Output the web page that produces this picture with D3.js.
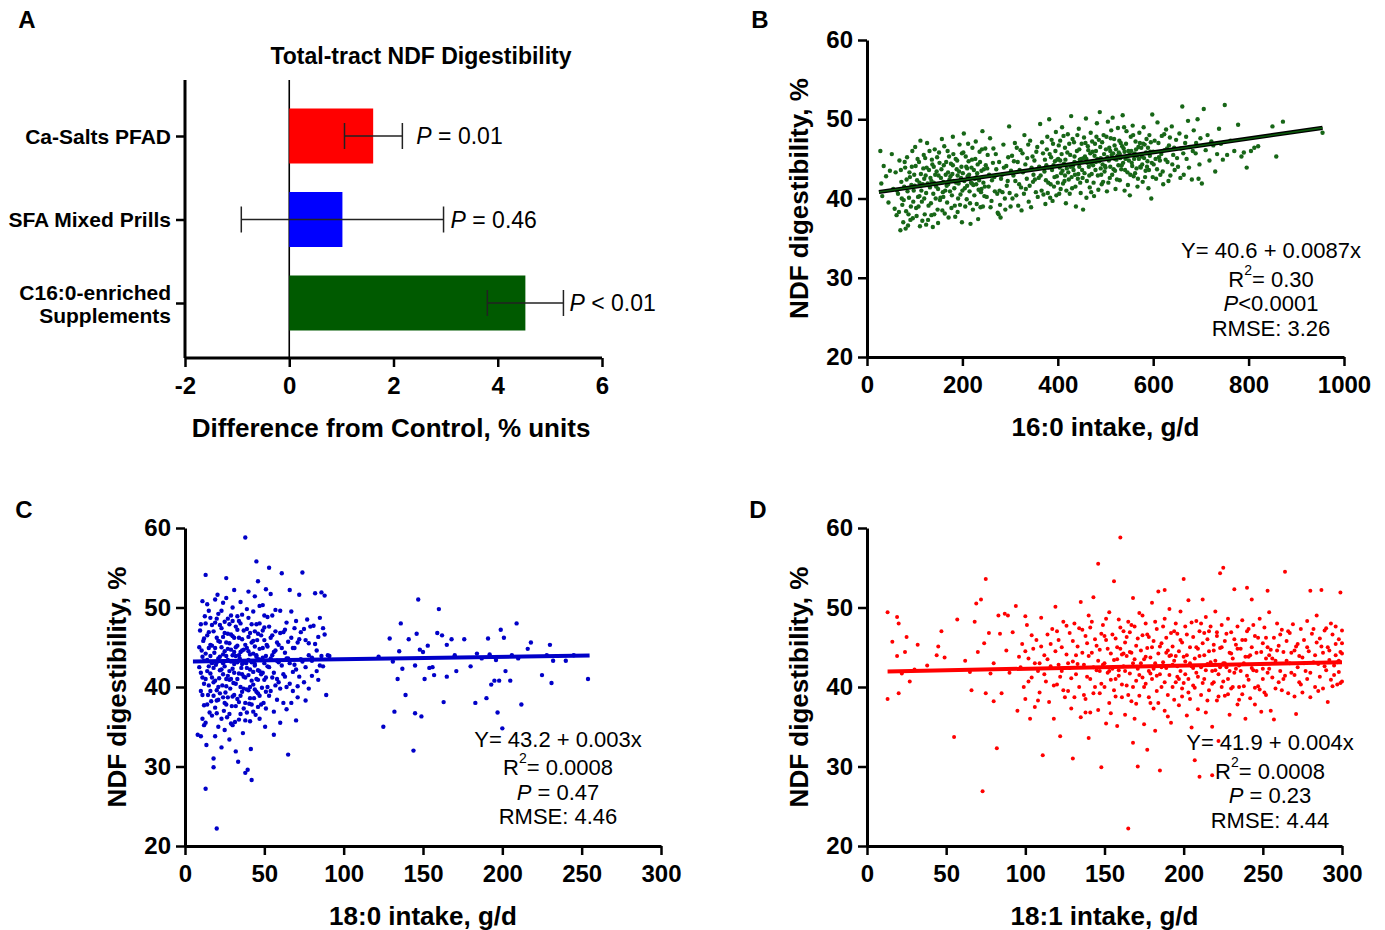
<!DOCTYPE html>
<html>
<head>
<meta charset="utf-8">
<script src="https://cdn.jsdelivr.net/npm/d3@7"></script>
<style>
  html, body { margin: 0; padding: 0; background: #fff; }
  svg { display: block; font-family: "Liberation Sans", Arial, Helvetica, sans-serif; }
  .tick text { font-weight: bold; }
</style>
</head>
<body>
<svg id="fig" width="1385" height="930"></svg>
<script>
// ---------- Panel A: treatment differences ----------
const supplements = ["Ca-Salts PFAD", "SFA Mixed Prills", "C16:0-enriched|Supplements"];
const diffMean = [1.61, 1.02, 4.53];
const diffLow = [1.06, -0.92, 3.80];
const diffHigh = [2.17, 2.96, 5.26];
const diffP = ["= 0.01", "= 0.46", "< 0.01"];
const barColors = ["#FF0000", "#0000FF", "#005A00"];
const diffTicks = [-2, 0, 2, 4, 6];

// ---------- Panel B: 16:0 intake vs NDF digestibility ----------
const c16 = [
[28,46.0],[30,41.9],[32,40.3],[35,44.1],[40,42.8],[45,39.5],[48,43.5],
[52,45.6],[55,41.2],[58,38.7],[60,43.3],[62,37.9],[65,40.6],[68,44.8],[70,36.0],[72,42.1],[74,39.2],
[76,37.0],[78,41.5],[80,43.9],[82,38.4],[84,45.2],[86,36.6],[88,40.1],[90,42.7],[92,39.0],[94,44.0],[96,37.5],[98,41.0],
[101,46.5],[103,38.8],[105,42.3],[107,40.2],[109,44.6],[111,36.5],[113,43.1],[115,39.6],[117,41.8],[119,45.5],[121,38.0],[123,42.9],[124,40.7],
[126,47.0],[128,37.3],[130,43.6],[132,41.4],[134,39.4],[136,44.9],[138,36.4],[140,42.0],[142,46.2],[144,40.0],[146,43.4],[148,38.6],[149,41.2],
[151,45.8],[153,39.8],[155,42.6],[157,47.5],[159,40.8],[161,44.2],[163,38.1],[165,43.0],[167,41.6],[169,46.0],[171,37.6],[173,42.4],
[176,44.4],[178,40.4],[180,47.8],[182,42.2],[184,39.1],[186,45.0],[188,43.7],[190,38.3],[192,41.9],[194,46.8],[196,40.5],[198,44.0],[199,37.0],
[201,43.2],[203,48.2],[205,41.3],[207,45.3],[209,39.9],[211,42.8],[213,44.7],[215,40.9],[217,36.8],[219,43.9],[221,46.4],[223,41.7],
[226,42.5],[228,47.2],[230,39.3],[232,44.3],[234,41.1],[236,45.9],[238,38.9],[240,43.5],[242,48.5],[244,42.0],[246,40.3],[248,46.3],
[252,43.8],[255,41.5],[258,47.6],[261,39.7],[264,44.5],[267,42.7],[270,45.6],[273,40.6],
[276,38.0],[278,41.0],[280,37.6],[283,43.0],[286,46.8],[289,40.0],[292,44.1],[295,42.2],[298,49.1],
[301,39.0],[304,45.4],[307,42.9],[310,47.0],[313,40.4],[316,44.6],[319,41.8],[322,46.1],[324,38.5],
[327,43.3],[330,48.0],[333,41.2],[336,45.1],[339,39.6],[342,47.3],[345,43.9],[348,42.1],
[351,44.8],[354,40.8],[357,46.5],[360,42.6],[363,49.4],[366,41.0],[369,45.7],[372,43.4],[374,39.3],
[376,44.2],[378,47.8],[380,42.0],[382,50.0],[384,40.1],[386,45.2],[388,43.6],[390,46.9],[392,41.5],[394,44.7],[396,48.4],[398,42.8],
[401,45.0],[403,40.6],[405,47.3],[407,43.2],[409,49.0],[411,41.9],[413,44.4],[415,46.4],[417,39.4],[419,43.8],[421,48.1],[423,42.4],
[426,45.5],[428,50.4],[430,41.3],[432,44.1],[434,47.1],[436,43.0],[438,39.0],[440,46.0],[442,42.5],[444,48.8],[446,44.9],[448,40.7],
[451,43.6],[453,38.6],[455,47.7],[457,45.3],[459,50.1],[461,42.2],[463,46.6],[465,44.0],[467,41.4],[469,48.3],[471,43.1],[473,45.9],
[476,40.3],[478,46.9],[480,44.6],[482,49.5],[484,42.9],[486,47.4],[488,50.9],[490,45.1],[492,41.8],[494,44.3],[496,48.0],[498,43.4],
[501,46.2],[503,40.9],[505,49.7],[507,44.8],[509,42.6],[511,47.6],[513,45.5],[515,50.2],[517,43.7],[519,46.7],[521,41.2],[523,44.9],
[526,48.9],[528,45.8],[530,42.3],[532,47.0],[534,44.2],[536,50.5],[538,46.3],[540,41.0],[542,45.0],[544,48.5],[546,43.3],[548,46.0],
[551,40.4],[553,47.8],[555,44.5],[557,49.2],[559,42.8],[561,45.7],[563,47.2],[565,43.8],[567,41.5],[569,46.5],[571,48.3],[573,44.0],
[576,45.3],[578,42.1],[580,49.0],[582,46.8],[584,43.5],[586,47.5],[588,44.7],[590,41.3],[592,48.0],[594,45.9],[596,40.0],[598,50.6],
[601,44.3],[603,47.3],[606,42.5],[609,49.6],[612,45.2],[615,43.0],[618,47.9],[621,41.8],[624,46.1],
[627,48.7],[630,44.6],[633,46.7],[636,42.9],[639,49.1],[642,45.5],[645,43.6],[648,47.4],
[652,44.0],[655,48.2],[658,46.3],[661,51.6],[664,43.0],[667,47.0],[670,45.0],[673,49.8],
[677,46.5],[681,42.4],[685,48.6],[689,45.7],[693,50.0],[697,44.3],[699,47.6],
[702,41.9],[706,51.3],[710,46.1],[714,48.0],[718,44.8],[722,47.2],[726,46.7],[730,43.4],[734,45.6],[738,48.8],[742,46.9],[746,44.9],
[750,51.8],[755,45.5],[762,47.3],[770,46.0],[778,49.3],[785,45.3],[790,45.8],[796,43.9],
[805,46.0],[812,46.4],[820,46.6],[850,49.1],[858,45.3],[872,49.7],[955,48.3],
[63,41.0],[67,38.3],[71,43.6],[73,40.0],[77,39.8],[79,44.6],[81,36.2],[83,42.4],[85,40.9],[87,38.0],[89,43.3],[91,37.3],[93,41.7],[95,46.0],[97,39.6],[99,43.0],
[100,41.6],[102,44.1],[104,37.8],[106,45.0],[108,39.0],[110,42.0],[112,47.3],[114,41.0],[116,37.2],[118,43.8],[120,40.0],[122,45.1],[124,36.7],[125,43.9],[127,41.9],
[129,39.1],[131,46.0],[133,42.6],[135,37.9],[137,44.3],[139,40.6],[141,38.0],[143,43.0],[145,41.5],[147,45.2],[149,36.9],[120,42.5],[135,42.2],[110,40.3],[140,44.0],
[150,42.9],[152,44.5],[154,40.1],[156,43.7],[158,38.5],[160,42.1],[162,46.6],[164,41.0],[166,44.6],[168,39.5],[170,43.3],[172,45.3],[174,40.9],[175,42.8],[177,38.8],
[179,43.1],[181,45.6],[183,41.3],[185,37.7],[187,42.0],[189,44.8],[191,40.0],[193,43.4],[195,39.2],[197,42.6],[199,45.7],[160,40.2],[170,41.8],[180,44.2],[190,42.9],
[200,41.0],[202,45.8],[204,42.2],[206,39.0],[208,44.0],[210,41.6],[212,46.9],[214,43.0],[216,39.4],[218,42.0],[220,44.9],[222,38.6],[224,43.6],[225,40.4],[227,45.0],
[229,41.8],[231,43.2],[233,37.4],[235,42.3],[237,44.6],[239,40.8],[241,46.2],[243,39.0],[245,43.7],[247,41.5],[249,44.2],[210,43.8],[230,42.7],[240,41.2],[220,41.9],
[251,40.2],[253,45.5],[256,43.0],[259,38.9],[262,42.3],[265,46.3],[268,40.9],[271,43.7],[274,38.2],[277,44.6],[279,39.2],[281,42.5],[284,40.8],[287,43.9],[290,38.6],[293,41.6],[296,45.2],[299,40.7],
[302,43.5],[305,40.0],[308,44.7],[311,42.2],[314,46.4],[317,39.1],[320,43.6],[323,41.4],[326,45.7],[329,40.6],[332,44.3],[335,42.5],[338,46.8],[341,41.6],[344,38.9],[347,45.3],[349,43.0],
[352,42.4],[355,45.9],[358,40.2],[361,44.0],[364,42.9],[367,47.1],[370,40.5],[373,44.9],[375,42.3],[377,46.2],[379,40.7],[381,43.9],[383,45.6],[385,41.8],[387,47.4],[389,39.7],[391,44.2],[393,42.7],[395,46.0],[397,40.4],[399,44.9],
[400,42.0],[402,46.7],[404,43.9],[406,41.2],[408,45.6],[410,43.5],[412,47.9],[414,42.2],[416,44.9],[418,41.0],[420,45.8],[422,43.3],[424,46.9],[425,40.6],[427,44.0],
[429,42.7],[431,47.5],[433,43.6],[435,45.3],[437,41.5],[439,44.5],[441,48.0],[443,43.1],[445,46.2],[447,42.0],[449,45.0],[405,44.8],[415,42.9],[435,44.6],[445,44.0],
[450,46.9],[452,42.6],[454,45.1],[456,43.2],[458,47.0],[460,40.1],[462,44.5],[464,46.1],[466,42.9],[468,45.7],[470,40.8],[472,47.2],[474,44.2],[475,42.0],[477,45.4],
[479,43.6],[481,47.8],[483,45.0],[485,41.1],[487,44.7],[489,46.5],[491,43.0],[493,47.1],[495,42.1],[497,45.6],[499,44.1],[460,45.0],[470,44.4],[480,46.0],[490,43.8],
[500,43.9],[502,47.8],[504,45.2],[506,42.0],[508,46.4],[510,44.0],[512,48.6],[514,43.0],[516,45.7],[518,47.5],[520,43.5],[522,46.2],[524,42.4],[525,45.4],[527,44.2],
[529,47.3],[531,45.1],[533,43.7],[535,46.6],[537,44.5],[539,49.0],[541,43.6],[543,46.9],[545,45.3],[547,41.7],[549,44.8],[510,46.0],[520,45.0],[530,45.6],[540,45.9],
[550,45.5],[552,43.0],[554,46.0],[556,44.1],[558,48.0],[560,45.0],[562,43.2],[564,46.2],[566,45.4],[568,42.5],[570,45.0],[572,47.0],[574,43.9],
[575,46.4],[577,44.3],[579,46.9],[581,45.1],[583,42.7],[585,45.8],[587,44.0],[589,46.4],[591,43.6],[593,45.4],[595,47.1],[597,44.5],[599,42.7],
[600,45.9],[605,45.0],[608,43.7],[611,47.0],[614,44.8],[617,45.6],[620,43.4],[623,48.1],[626,44.9],[629,46.3],[632,42.2],
[635,47.7],[640,44.3],[644,46.4],[650,45.1],[657,42.6],[663,45.7],[669,47.8],[675,43.9],[683,46.0],[690,47.0],[695,42.5]
];

// ---------- Panel C: 18:0 intake vs NDF digestibility ----------
const c18 = [
[8,34.0],[9,42.5],[9.5,47.1],[10,39.5],[10.5,44.6],[11,50.8],[11,41.2],[11.5,45.8],[12,37.7],[12,43.3],[12.5,48.9],[12,40.4],[11,36.0],[10,33.8],
[13,54.1],[13,27.2],[13.5,32.7],[14,42.0],[14,46.5],[14.5,39.0],[15,44.9],[15,49.6],[15.5,36.8],[16,41.7],[16,45.3],[16.5,38.2],[17,43.0],[17,47.8],[13,35.5],[14,50.4],
[18,31.0],[18,40.6],[18.5,44.3],[19,48.1],[19,37.4],[19.5,42.8],[20,46.2],[20,39.6],[20.5,51.6],[21,35.0],[21,43.6],[21.5,41.1],[22,45.7],[20,22.2],[18,29.9],[19,33.8],[20,38.3],[21,49.2],[22,42.1],
[23,32.4],[23,47.4],[23.5,40.2],[24,44.1],[24,50.6],[24.5,37.0],[25,42.6],[25,46.8],[25.5,39.3],[26,53.7],[26,43.9],[26.5,36.2],[27,48.6],[27,41.4],[23,45.0],[24,38.7],[25,34.6],[26,41.0],[27,44.8],[26,51.2],
[28,33.4],[28,45.5],[28.5,39.8],[29,43.2],[29,49.0],[29.5,37.6],[30,42.3],[30,46.4],[30.5,40.5],[31,52.2],[31,44.4],[31.5,35.6],[32,31.9],[32,47.6],[28,42.0],[29,35.4],[30,38.8],[31,41.8],[32,43.9],[30,50.0],
[33,41.0],[33,45.2],[33.5,30.6],[34,38.1],[34,48.3],[34.5,43.6],[35,36.6],[35,50.7],[35.5,42.4],[36,46.0],[36,39.4],[36.5,34.2],[37,44.7],[37,41.3],[33,48.9],[34,44.0],[35,40.0],[36,42.9],[37,37.3],
[38,58.8],[38,29.2],[38.5,43.0],[39,47.3],[39,39.7],[39.5,29.6],[40,52.0],[40,44.5],[40.5,37.9],[41,42.2],[41,46.8],[41.5,32.2],[42,28.3],[42,40.8],[38,35.8],[39,49.8],[40,41.5],[41,35.7],[42,45.6],[40,43.4],
[43,44.2],[43,49.5],[43.5,38.6],[44,42.7],[44,47.0],[44.5,36.5],[45,55.8],[45,41.0],[45.5,45.9],[46,39.2],[46,53.3],[46.5,43.5],[47,48.0],[47,36.0],[43,40.3],[44,51.4],[45,43.8],[46,37.5],[47,42.0],
[48,41.6],[48,46.5],[48.5,39.9],[49,44.9],[49,50.3],[49.5,38.0],[50,43.0],[50,47.5],[50.5,35.0],[51,41.2],[51,52.3],[51.5,45.3],[52,40.0],[52,48.8],[49,43.7],[50,45.9],[51,37.3],
[53,55.0],[53,42.5],[54,46.2],[54,39.5],[55,44.0],[55,49.0],[56,34.0],[56,41.8],[57,47.0],[57,44.6],[58,38.4],[58,43.3],[54,51.7],[56,36.9],
[59,45.3],[59,40.6],[60,49.6],[60,35.5],[61,54.3],[61,42.7],[62,46.9],[62,38.0],[63,44.3],[63,41.3],[64,48.1],[64,37.2],[65,31.5],[65,43.6],
[66,52.2],[66,40.4],[67,46.2],[67,38.0],[68,44.9],[68,41.9],[69,47.4],[69,42.8],[70,35.8],[70,48.3],[71,40.1],[71,45.6],[72,51.6],[72,41.3],
[73,46.9],[74,54.4],[74,43.2],[75,40.6],[76,45.9],[76,42.5],[77,48.5],[78,39.8],[78,44.0],[79,47.6],[80,41.4],[80,43.7],
[82,51.8],[82,45.4],[83,42.0],[84,46.3],[85,48.7],[86,43.9],[86,51.9],[87,42.6],[87,47.4],[88,51.5],[89,39.0],[91,43.9],
[9,45.0],[10,41.8],[10,47.9],[11,39.0],[11,43.8],[12,46.1],[12,35.2],[13,41.0],[13,44.2],[13,48.0],[14,37.8],[14,43.4],[15,40.2],[15,46.9],[15,42.6],
[16,48.7],[16,39.5],[16,43.9],[17,36.4],[17,41.2],[17,45.2],[18,42.4],[18,47.0],[18,38.9],[19,44.9],[19,40.8],[19,51.0],[20,43.1],[20,36.7],[20,48.6],
[21,40.0],[21,45.8],[21,38.4],[22,43.8],[22,47.8],[22,39.2],[23,42.2],[23,36.0],[23,49.6],[24,41.6],[24,46.3],[24,43.0],[25,38.0],[25,44.5],[25,48.2],
[26,40.1],[26,45.6],[26,37.8],[27,43.4],[27,46.7],[27,38.7],[28,40.9],[28,47.9],[28,36.6],[29,44.7],[29,41.0],[29,46.6],[30,44.0],[30,35.2],[30,48.3],
[31,39.0],[31,46.2],[31,42.9],[32,37.6],[32,45.0],[32,40.4],[33,43.1],[33,47.2],[33,38.5],[34,41.7],[34,46.2],[34,35.9],[35,44.4],[35,48.0],[35,38.9],
[36,41.6],[36,44.6],[36,49.1],[37,39.8],[37,47.1],[37,43.1],[38,41.2],[38,45.3],[38,38.0],[39,42.4],[39,44.9],[39,36.8],[40,46.3],[40,39.6],[40,48.7],
[41,44.1],[41,40.0],[41,38.6],[42,43.1],[42,47.9],[42,37.8],[43,45.8],[43,41.9],[43,36.9],[44,39.7],[44,45.1],[44,42.9],[45,47.9],[45,39.4],[45,44.0],
[46,42.1],[46,46.7],[46,40.9],[47,44.8],[47,38.9],[47,50.2],[48,43.4],[48,37.8],[49,41.8],[49,47.1],[50,40.9],[50,49.0],[51,43.9],[51,39.4],[52,45.1],
[52,42.6],[53,47.6],[53,38.9],[54,43.6],[55,41.2],[55,46.5],[56,44.4],[57,40.2],[57,49.7],[58,45.6],[58,41.0],[59,43.1],[60,46.8],[60,39.8],[61,44.9],
[62,41.6],[63,47.2],[64,43.6],[64,40.0],[65,45.7],[66,43.0],[67,49.5],[68,39.5],[69,44.9],[70,42.2],[71,38.7],[72,46.0],[73,43.5],[75,47.3],[76,38.3],
[78,45.5],[80,43.3],[81,47.7],[83,44.6],[84,40.9],[85,42.7],[88,46.6],[90,44.0],
[122,43.8],[125,35.0],[129,46.1],[131,43.2],[132,36.9],[134,41.0],[135,44.5],[136,48.0],[137,42.3],[139,39.0],[141,46.0],[144,32.0],[145,42.7],[145,36.7],
[146,46.7],[147,51.0],[148,44.7],[149,36.3],[150,44.4],[151,41.0],[153,45.2],[154,42.4],[156,42.5],[157,41.5],[159,46.8],[160,49.8],[162,46.5],[163,38.1],
[165,45.3],[165,41.3],[168,46.0],[170,44.0],[171,42.0],[176,46.0],[180,42.6],[183,38.0],[184,44.2],[187,43.6],[190,38.6],[191,46.1],[192,44.1],[193,40.3],
[195,40.8],[196,43.4],[197,36.8],[198,40.8],[199,47.2],[200,34.8],[201,46.2],[202,42.0],[205,40.8],[206,44.0],[209,48.0],[210,43.6],[212,37.8],[216,44.8],
[218,45.6],[225,41.5],[228,44.0],[230,45.3],[231,40.5],[232,43.3],[240,43.3],[245,44.0],[254,41.0]
];

// ---------- Panel D: 18:1 intake vs NDF digestibility ----------
const c181 = [
[13,49.4],[13,38.5],[16,45.7],[19,48.8],[19,43.9],[20,48.0],[20,39.2],[22,41.7],[24,44.4],[25,46.3],[27,40.7],[30,42.2],[32,45.3],[38,42.7],[44,44.0],[45,45.1],
[47,47.0],[49,43.7],[55,33.7],[57,48.5],[62,43.3],[65,41.9],[66,39.6],[68,48.2],[69,50.5],[70,44.4],[72,51.0],[73,26.9],[74,45.5],[75,53.6],[75,39.2],[77,46.8],
[78,41.7],[80,38.2],[80,43.0],[82,32.3],[83,49.0],[84,46.7],[85,39.2],[87,49.2],[88,44.6],[89,49.0],[90,41.8],[92,46.9],[94,50.2],[95,37.0],[96,43.8],
[97,42.5],[98,45.4],[99,40.0],[100,38.5],[101,47.8],[102,43.6],[103,36.0],[104,41.2],[105,44.8],[100,48.9],
[106,37.5],[107,45.9],[108,42.0],[109,39.3],[110,48.7],[111,31.4],[112,44.0],[113,40.7],[114,46.6],[115,38.1],[109,43.0],
[116,42.6],[117,47.3],[118,36.0],[119,44.5],[120,40.3],[121,45.9],[122,33.8],[123,42.0],[124,48.2],[125,38.7],[119,50.1],[122,41.3],
[126,44.1],[127,39.5],[128,46.8],[129,37.3],[130,43.2],[130,31.0],[131,48.0],[132,41.6],[133,45.1],[134,40.0],[135,50.7],[135,36.2],[128,42.4],[132,44.0],
[136,47.2],[137,42.8],[138,38.5],[139,45.5],[140,33.6],[140,49.0],[141,41.0],[142,44.3],[143,51.3],[143,39.2],[144,46.0],[145,42.1],[138,36.8],[141,47.5],
[146,55.5],[146,37.1],[147,44.7],[148,40.4],[148,29.9],[149,47.8],[150,43.0],[151,35.4],[151,45.9],[152,41.8],[153,49.4],[153,38.0],[154,44.2],[155,42.3],[150,46.4],[154,40.9],[147,42.0],
[156,53.3],[156,39.6],[157,46.1],[158,43.5],[158,35.1],[159,48.5],[159,41.4],[160,44.8],[160,58.8],[161,38.7],[162,47.0],[162,42.6],[163,36.5],[163,45.6],[164,40.2],[164,43.9],[165,22.2],[165,48.2],[157,41.0],[161,44.1],
[166,41.7],[166,46.9],[167,38.2],[167,44.3],[168,51.2],[168,43.0],[169,36.0],[169,47.6],[170,40.8],[170,45.2],[171,42.3],[172,49.3],[172,38.9],[173,44.6],[174,41.2],[174,46.5],[175,35.3],[175,43.5],[168,33.0],[171,30.0],
[176,48.0],[176,40.4],[177,44.9],[177,32.1],[178,42.0],[178,46.3],[179,38.0],[179,43.7],[180,50.6],[180,41.0],[181,45.8],[181,37.3],[182,43.0],[183,47.3],[183,39.5],[184,52.0],[184,44.2],[185,41.6],[185,29.5],[182,34.5],
[186,45.5],[186,40.0],[187,43.1],[188,48.6],[188,37.0],[189,42.4],[189,46.2],[190,39.0],[190,44.6],[191,49.8],[191,41.5],[192,35.5],[193,45.1],[193,42.8],[194,38.4],[194,47.0],[195,43.9],[195,40.6],[188,52.2],[192,44.0],
[196,46.7],[196,41.3],[197,37.7],[197,44.5],[198,49.5],[198,42.0],[199,39.8],[199,45.6],[200,53.6],[200,40.5],[201,43.2],[201,47.6],[202,36.4],[202,44.0],[203,41.0],[203,50.9],[204,38.5],[204,45.0],[205,42.6],[205,34.9],
[206,46.3],[206,40.2],[207,43.6],[207,30.8],[208,48.3],[208,41.8],[209,37.2],[209,44.8],[210,28.7],[210,47.0],[211,42.5],[211,39.0],[212,45.5],[212,51.0],[213,41.0],[213,44.0],[214,36.8],[214,48.8],[215,42.9],[215,46.0],
[216,39.6],[216,44.5],[217,47.6],[218,42.0],[218,35.0],[219,45.3],[219,40.6],[220,49.5],[220,43.3],[221,38.3],[221,46.4],[222,41.6],[223,44.9],[223,54.3],[224,47.8],[224,40.0],[225,55.0],[225,43.0],[218,28.9],[222,33.2],
[226,45.8],[226,38.9],[227,42.5],[228,48.6],[228,41.0],[229,44.3],[229,36.5],[230,46.9],[230,39.8],[231,43.6],[232,52.3],[232,41.8],[233,45.3],[234,37.8],[234,47.6],[235,42.7],[235,40.0],
[236,44.8],[237,48.4],[237,39.1],[238,43.0],[239,45.9],[239,36.0],[240,41.4],[241,47.3],[241,43.8],[242,38.6],[243,45.0],[243,51.0],[244,42.1],[245,46.4],[245,37.8],[240,52.5],
[246,44.3],[247,40.1],[248,48.6],[248,42.9],[249,36.9],[250,45.5],[250,41.0],[251,47.5],[252,43.6],[252,39.0],[253,45.0],[254,49.4],[254,42.3],[255,37.0],[255,44.7],[253,52.1],
[256,41.2],[257,46.2],[257,35.9],[258,43.3],[259,48.0],[260,40.6],[260,45.2],[261,42.0],[262,39.6],[262,47.2],[263,44.4],[264,41.4],[264,54.5],[265,45.8],
[266,39.2],[267,46.8],[267,43.0],[268,41.8],[269,47.9],[270,44.6],[270,38.8],[271,36.6],[272,45.4],[272,42.5],[273,40.6],[274,47.3],[275,43.7],[275,39.3],
[276,45.9],[277,42.0],[278,48.3],[278,41.0],[279,44.5],[280,52.1],[280,38.7],[281,46.7],[282,43.1],[283,40.0],[284,45.6],[284,49.0],[285,42.9],
[286,46.1],[286,41.3],[287,52.2],[288,44.3],[288,39.8],[289,47.1],[290,42.1],[291,45.0],[291,38.1],[292,43.4],[293,48.0],[293,40.9],[294,46.6],[295,42.7],[295,41.5],
[296,44.0],[296,47.6],[297,40.3],[297,43.1],[298,46.0],[298,41.9],[299,44.4],[299,51.9],[299,40.5],[300,44.2],[300,47.1],[300,40.7],
[100,44.5],[102,40.7],[104,46.5],[106,43.0],[108,38.3],[110,45.1],[112,41.6],[114,43.5],[116,45.4],[118,40.2],[120,47.0],[121,42.8],[123,45.0],[124,39.6],[126,47.7],
[127,43.0],[129,41.1],[130,45.8],[131,38.7],[133,42.9],[134,47.4],[136,44.3],[137,39.0],[138,46.4],[139,41.3],[140,43.9],[141,36.8],[142,48.2],[143,42.5],[144,40.0],
[145,45.2],[146,43.3],[147,39.2],[148,46.7],[149,42.8],[150,40.0],[151,48.6],[152,44.8],[153,42.0],[154,36.7],[155,46.6],[156,43.4],[157,38.8],[158,45.0],[159,42.1],
[160,47.5],[161,40.3],[162,44.2],[163,42.0],[164,46.3],[165,39.0],[166,44.4],[167,47.8],[168,40.0],[169,43.5],[170,37.9],[171,46.1],[172,41.5],[173,43.0],[174,49.0],
[175,40.0],[176,43.8],[177,46.6],[178,38.7],[179,41.7],[180,45.0],[181,42.3],[182,48.2],[183,41.4],[184,38.0],[185,45.1],[186,42.5],[187,47.6],[188,40.6],[189,44.3],
[190,36.3],[191,43.9],[192,46.8],[193,40.0],[194,43.3],[195,48.0],[196,42.6],[197,41.0],[198,45.9],[199,38.8],[200,43.8],[201,41.6],[202,46.6],[203,39.3],[204,43.0],
[205,48.1],[206,42.4],[207,39.9],[208,45.0],[209,41.3],[210,43.9],[211,48.0],[212,40.5],[213,46.8],[214,42.1],[215,38.3],[216,47.0],[217,43.1],[218,40.4],[219,44.6],
[220,42.1],[221,46.9],[222,38.8],[223,42.5],[224,45.0],[225,40.7],[226,43.0],[227,46.7],[228,39.1],[229,42.0],[230,44.2],[231,40.0],[232,46.0],[233,42.3],[234,44.8],
[235,38.4],[236,42.0],[237,45.9],[238,40.1],[239,43.8],[240,47.0],[241,40.9],[242,44.0],[243,42.4],[244,47.8],[245,39.9],[246,42.0],[247,46.2],[248,39.7],[249,44.4],
[250,42.3],[251,39.3],[252,46.2],[253,41.8],[254,44.0],[256,43.6],[258,39.8],[259,44.6],[261,46.6],[263,41.0],[265,43.3],[266,47.0],[268,44.3],[270,41.5],[271,45.1],
[273,43.9],[274,40.3],[276,43.0],[278,45.0],[280,41.8],[282,47.3],[283,44.0],[285,39.5],[287,45.1],[289,42.6],[290,47.4],[292,44.6],[294,40.1],[296,45.4],[298,43.3],[300,45.5]
];

// Regression fits: [intercept, slope, x start, x end]
const fitB = [40.6, 0.0087, 25, 955];
const fitC = [43.2, 0.003, 5, 255];
const fitD = [41.9, 0.004, 13, 300];

const statsB = ["Y= 40.6 + 0.0087x", "0.30", "<0.0001", "3.26"];
const statsC = ["Y= 43.2 + 0.003x", "0.0008", " = 0.47", "4.46"];
const statsD = ["Y= 41.9 + 0.004x", "0.0008", " = 0.23", "4.44"];

const ndfTicks = [20, 30, 40, 50, 60];
const c16Ticks = [0, 200, 400, 600, 800, 1000];
const c18Ticks = [0, 50, 100, 150, 200, 250, 300];

const svg = d3.select("#fig");
const plain = d => String(d);

function styleAxis(g) {
  g.select(".domain").attr("stroke", "#000").attr("stroke-width", 3);
  g.selectAll(".tick line").attr("stroke", "#000").attr("stroke-width", 2.5);
  g.selectAll(".tick text").attr("fill", "#000").attr("font-size", 24);
}

function panelLetter(x, y, t) {
  svg.append("text").attr("x", x).attr("y", y).attr("font-size", 24)
    .attr("font-weight", "bold").attr("text-anchor", "middle").text(t);
}

// ---------- Draw A ----------
(function () {
  const x = d3.scaleLinear().domain([-2, 6]).range([185, 602]);
  const y = d3.scalePoint().domain(supplements).range([136, 303]);
  const top = 80, bottom = 358, barH = 55;
  const pGap = [14, 7, 6];
  const g = svg.append("g");

  // zero reference line
  g.append("line").attr("x1", x(0)).attr("x2", x(0)).attr("y1", top).attr("y2", bottom)
    .attr("stroke", "#000").attr("stroke-width", 1.6);

  g.selectAll("rect.bar").data(supplements).join("rect")
    .attr("x", x(0)).attr("y", d => y(d) - barH / 2)
    .attr("width", (d, i) => x(diffMean[i]) - x(0)).attr("height", barH)
    .attr("fill", (d, i) => barColors[i]);

  supplements.forEach((d, i) => {
    const cy = y(d);
    g.append("line").attr("x1", x(diffLow[i])).attr("x2", x(diffHigh[i]))
      .attr("y1", cy).attr("y2", cy).attr("stroke", "#222").attr("stroke-width", 1.5);
    [diffLow[i], diffHigh[i]].forEach(v => {
      g.append("line").attr("x1", x(v)).attr("x2", x(v)).attr("y1", cy - 13).attr("y2", cy + 13)
        .attr("stroke", "#222").attr("stroke-width", 1.5);
    });
    const t = g.append("text").attr("x", x(diffHigh[i]) + pGap[i]).attr("y", cy)
      .attr("dominant-baseline", "central").attr("font-size", 23);
    t.append("tspan").attr("font-style", "italic").text("P");
    t.append("tspan").text(" " + diffP[i]);
  });

  const xa = g.append("g").attr("transform", `translate(0,${bottom})`)
    .call(d3.axisBottom(x).tickValues(diffTicks).tickFormat(plain).tickSize(9).tickPadding(10).tickSizeOuter(0));
  styleAxis(xa);
  xa.select(".domain").attr("d", `M${x(-2)},0H${x(6)}`);

  const ya = g.append("g").attr("transform", `translate(${x(-2)},0)`)
    .call(d3.axisLeft(y).tickSize(9).tickPadding(4).tickFormat(() => ""));
  styleAxis(ya);
  ya.select(".domain").attr("d", `M0,${top}V${bottom}`);
  supplements.forEach(d => {
    const parts = d.split("|");
    const t = g.append("text").attr("text-anchor", "end").attr("font-weight", "bold")
      .attr("font-size", 21).attr("x", 171);
    if (parts.length === 1) {
      t.attr("y", y(d)).attr("dominant-baseline", "central").text(parts[0]);
    } else {
      t.append("tspan").attr("x", 171).attr("y", y(d) - 11).attr("dominant-baseline", "central").text(parts[0]);
      t.append("tspan").attr("x", 171).attr("y", y(d) + 12).attr("dominant-baseline", "central").text(parts[1]);
    }
  });

  g.append("text").attr("x", 421).attr("y", 56).attr("text-anchor", "middle")
    .attr("dominant-baseline", "central").attr("font-weight", "bold").attr("font-size", 23)
    .text("Total-tract NDF Digestibility");
  g.append("text").attr("x", 391).attr("y", 428).attr("text-anchor", "middle")
    .attr("dominant-baseline", "central").attr("font-weight", "bold").attr("font-size", 26)
    .text("Difference from Control, % units");
  panelLetter(27, 28, "A");
})();

// ---------- Scatter panels ----------
function scatterPanel(o) {
  const x = d3.scaleLinear().domain(o.xDomain).range(o.xRange);
  const y = d3.scaleLinear().domain([20, 60]).range(o.yRange);
  const g = svg.append("g");

  g.selectAll("circle").data(o.data).join("circle")
    .attr("cx", d => x(d[0])).attr("cy", d => y(d[1])).attr("r", o.r)
    .attr("fill", o.dot);

  const line = d3.line().x(d => x(d)).y(d => y(o.fit[0] + o.fit[1] * d));
  const ends = [o.fit[2], o.fit[3]];
  if (o.outline) {
    g.append("path").attr("d", line(ends)).attr("stroke", o.outline).attr("stroke-width", 4.2).attr("fill", "none");
    g.append("path").attr("d", line(ends)).attr("stroke", o.lineColor).attr("stroke-width", 1.6).attr("fill", "none");
  } else {
    g.append("path").attr("d", line(ends)).attr("stroke", o.lineColor).attr("stroke-width", 4).attr("fill", "none");
  }

  const xa = g.append("g").attr("transform", `translate(0,${o.yRange[0]})`)
    .call(d3.axisBottom(x).tickValues(o.xTicks).tickFormat(plain).tickSize(9).tickPadding(10).tickSizeOuter(0));
  styleAxis(xa);
  const ya = g.append("g").attr("transform", `translate(${o.xRange[0]},0)`)
    .call(d3.axisLeft(y).tickValues(ndfTicks).tickFormat(plain).tickSize(9).tickPadding(5).tickSizeOuter(0));
  styleAxis(ya);

  g.append("text").attr("x", (o.xRange[0] + o.xRange[1]) / 2).attr("y", o.yRange[0] + 70)
    .attr("text-anchor", "middle").attr("dominant-baseline", "central")
    .attr("font-weight", "bold").attr("font-size", 26).text(o.xTitle);
  g.append("text").attr("transform", `translate(${o.xRange[0] - 68},${(o.yRange[0] + o.yRange[1]) / 2}) rotate(-90)`)
    .attr("text-anchor", "middle").attr("dominant-baseline", "central")
    .attr("font-weight", "bold").attr("font-size", 26).text("NDF digestibility, %");

  const sx = o.statsX, sy = o.statsY, fs = 22;
  const s = o.stats;
  g.append("text").attr("x", sx).attr("y", sy[0]).attr("text-anchor", "middle")
    .attr("dominant-baseline", "central").attr("font-size", fs).text(s[0]);
  const r2 = g.append("text").attr("x", sx).attr("y", sy[1]).attr("text-anchor", "middle")
    .attr("dominant-baseline", "central").attr("font-size", fs);
  r2.append("tspan").text("R");
  r2.append("tspan").attr("font-size", 14).attr("dy", -9).text("2");
  r2.append("tspan").attr("dy", 9).text("= " + s[1]);
  const p = g.append("text").attr("x", sx).attr("y", sy[2]).attr("text-anchor", "middle")
    .attr("dominant-baseline", "central").attr("font-size", fs);
  p.append("tspan").attr("font-style", "italic").text("P");
  p.append("tspan").text(s[2]);
  g.append("text").attr("x", sx).attr("y", sy[3]).attr("text-anchor", "middle")
    .attr("dominant-baseline", "central").attr("font-size", fs).text("RMSE: " + s[3]);
}

scatterPanel({
  data: c16, xDomain: [0, 1000], xRange: [867, 1344], yRange: [357, 40], xTicks: c16Ticks,
  dot: "#176617", r: 2.2, fit: fitB, lineColor: "#0B5A0B", outline: "#000",
  xTitle: "16:0 intake, g/d", stats: statsB, statsX: 1271, statsY: [250, 279, 303, 328]
});
scatterPanel({
  data: c18, xDomain: [0, 300], xRange: [185, 661], yRange: [846, 528], xTicks: c18Ticks,
  dot: "#0000C8", r: 2.2, fit: fitC, lineColor: "#0000C8",
  xTitle: "18:0 intake, g/d", stats: statsC, statsX: 558, statsY: [739, 767, 792, 816]
});
scatterPanel({
  data: c181, xDomain: [0, 300], xRange: [867, 1342], yRange: [846, 528], xTicks: c18Ticks,
  dot: "#FF0000", r: 2.0, fit: fitD, lineColor: "#FF0000",
  xTitle: "18:1 intake, g/d", stats: statsD, statsX: 1270, statsY: [742, 771, 795, 820]
});

panelLetter(760, 28, "B");
panelLetter(24, 518, "C");
panelLetter(758, 518, "D");
</script>
</body>
</html>
